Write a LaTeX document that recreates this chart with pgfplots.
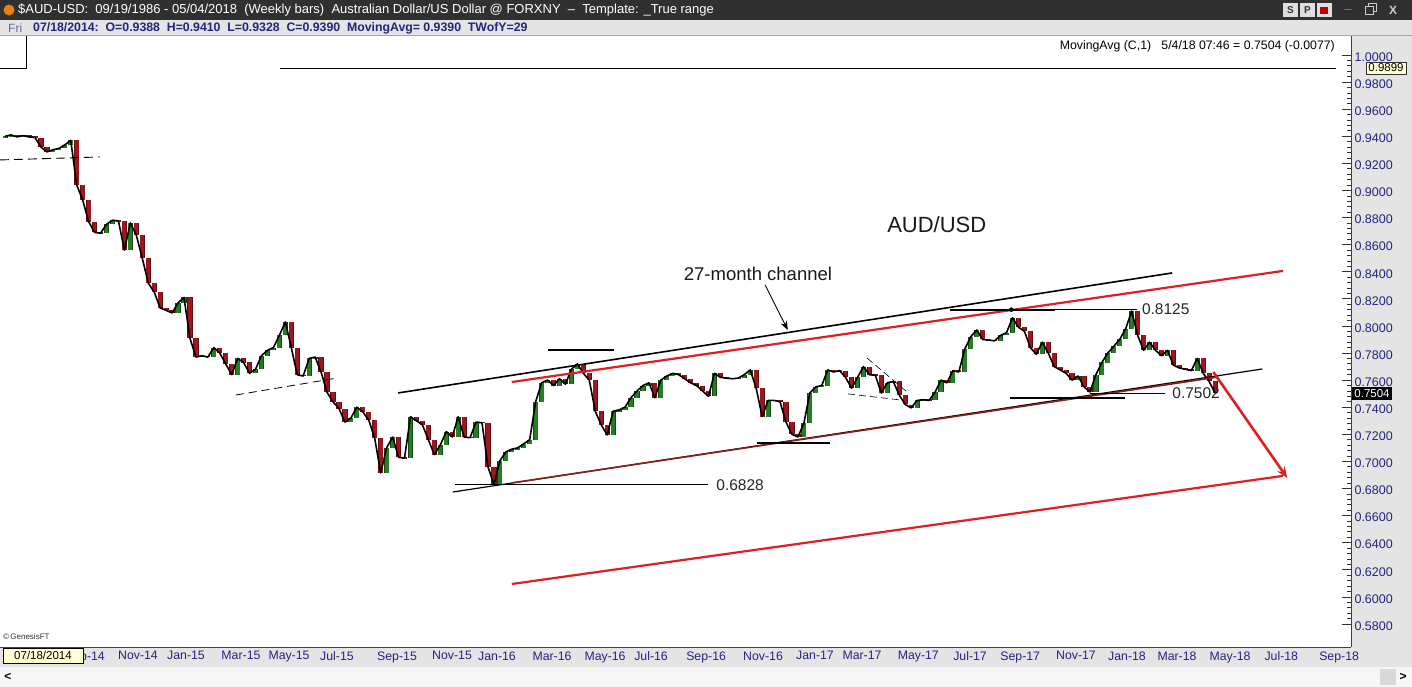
\documentclass[border=0pt]{standalone}
\usepackage{pgfplots}
\pgfplotsset{compat=1.18}
\usepackage{pgfplotstable}
\usepackage{fontspec}
\setmainfont{Liberation Sans}
\usetikzlibrary{arrows.meta}
\definecolor{upg}{RGB}{34,128,34}
\definecolor{upgd}{RGB}{20,70,20}
\definecolor{dnr}{RGB}{160,22,30}
\definecolor{dnrd}{RGB}{100,12,16}
\definecolor{chred}{RGB}{222,32,32}
\definecolor{mred}{RGB}{140,28,28}
\definecolor{navy}{RGB}{36,36,128}
\definecolor{panel}{RGB}{228,228,228}
\definecolor{hdr}{RGB}{48,48,48}
\definecolor{tipy}{RGB}{255,255,210}

\pgfplotstableread{
w o c
-5 0.9390 0.9400
-4 0.9400 0.9410
-3 0.9410 0.9395
-2 0.9395 0.9405
-1 0.9405 0.9395
0 0.9395 0.9390
1 0.9390 0.9320
2 0.9320 0.9285
3 0.9285 0.9300
4 0.9300 0.9310
5 0.9310 0.9336
6 0.9336 0.9370
7 0.9370 0.9040
8 0.9040 0.8930
9 0.8930 0.8770
10 0.8770 0.8690
11 0.8690 0.8685
12 0.8685 0.8750
13 0.8750 0.8780
14 0.8780 0.8775
15 0.8775 0.8560
16 0.8560 0.8760
17 0.8760 0.8670
18 0.8670 0.8500
19 0.8500 0.8317
20 0.8317 0.8250
21 0.8250 0.8133
22 0.8133 0.8115
23 0.8115 0.8096
24 0.8096 0.8170
25 0.8170 0.8210
26 0.8210 0.7910
27 0.7910 0.7770
28 0.7770 0.7780
29 0.7780 0.7770
30 0.7770 0.7840
31 0.7840 0.7800
32 0.7800 0.7720
33 0.7720 0.7640
34 0.7640 0.7760
35 0.7760 0.7730
36 0.7730 0.7650
37 0.7650 0.7680
38 0.7680 0.7780
39 0.7780 0.7820
40 0.7820 0.7840
41 0.7840 0.7930
42 0.7930 0.8030
43 0.8030 0.7840
44 0.7840 0.7640
45 0.7640 0.7630
46 0.7630 0.7760
47 0.7760 0.7770
48 0.7770 0.7660
49 0.7660 0.7510
50 0.7510 0.7440
51 0.7440 0.7390
52 0.7390 0.7290
53 0.7290 0.7320
54 0.7320 0.7400
55 0.7400 0.7365
56 0.7365 0.7305
57 0.7305 0.7170
58 0.7170 0.6915
59 0.6915 0.7100
60 0.7100 0.7180
61 0.7180 0.7030
62 0.7030 0.7025
63 0.7025 0.7330
64 0.7330 0.7300
65 0.7300 0.7270
66 0.7270 0.7160
67 0.7160 0.7050
68 0.7050 0.7120
69 0.7120 0.7220
70 0.7220 0.7180
71 0.7180 0.7330
72 0.7330 0.7180
73 0.7180 0.7175
74 0.7175 0.7290
75 0.7290 0.7285
76 0.7285 0.6960
77 0.6960 0.6828
78 0.6828 0.7005
79 0.7005 0.7070
80 0.7070 0.7090
81 0.7090 0.7100
82 0.7100 0.7130
83 0.7130 0.7160
84 0.7160 0.7440
85 0.7440 0.7580
86 0.7580 0.7600
87 0.7600 0.7560
88 0.7560 0.7610
89 0.7610 0.7570
90 0.7570 0.7680
91 0.7680 0.7720
92 0.7720 0.7650
93 0.7650 0.7600
94 0.7600 0.7370
95 0.7370 0.7270
96 0.7270 0.7195
97 0.7195 0.7370
98 0.7370 0.7380
99 0.7380 0.7400
100 0.7400 0.7470
101 0.7470 0.7520
102 0.7520 0.7560
103 0.7560 0.7580
104 0.7580 0.7470
105 0.7470 0.7600
106 0.7600 0.7630
107 0.7630 0.7650
108 0.7650 0.7640
109 0.7640 0.7610
110 0.7610 0.7580
111 0.7580 0.7560
112 0.7560 0.7520
113 0.7520 0.7480
114 0.7480 0.7650
115 0.7650 0.7620
116 0.7620 0.7615
117 0.7615 0.7610
118 0.7610 0.7615
119 0.7615 0.7640
120 0.7640 0.7675
121 0.7675 0.7540
122 0.7540 0.7330
123 0.7330 0.7450
124 0.7450 0.7450
125 0.7450 0.7440
126 0.7440 0.7290
127 0.7290 0.7200
128 0.7200 0.7180
129 0.7180 0.7280
130 0.7280 0.7505
131 0.7505 0.7550
132 0.7550 0.7560
133 0.7560 0.7675
134 0.7675 0.7660
135 0.7660 0.7670
136 0.7670 0.7620
137 0.7620 0.7540
138 0.7540 0.7620
139 0.7620 0.7700
140 0.7700 0.7640
141 0.7640 0.7635
142 0.7635 0.7505
143 0.7505 0.7580
144 0.7580 0.7590
145 0.7590 0.7490
146 0.7490 0.7420
147 0.7420 0.7395
148 0.7395 0.7450
149 0.7450 0.7455
150 0.7455 0.7450
151 0.7450 0.7510
152 0.7510 0.7600
153 0.7600 0.7580
154 0.7580 0.7670
155 0.7670 0.7660
156 0.7660 0.7830
157 0.7830 0.7920
158 0.7920 0.7970
159 0.7970 0.7900
160 0.7900 0.7895
161 0.7895 0.7890
162 0.7890 0.7930
163 0.7930 0.7950
164 0.7950 0.8060
165 0.8060 0.7990
166 0.7990 0.7960
167 0.7960 0.7840
168 0.7840 0.7790
169 0.7790 0.7880
170 0.7880 0.7800
171 0.7800 0.7700
172 0.7700 0.7675
173 0.7675 0.7650
174 0.7650 0.7600
175 0.7600 0.7630
176 0.7630 0.7550
177 0.7550 0.7512
178 0.7512 0.7640
179 0.7640 0.7730
180 0.7730 0.7800
181 0.7800 0.7850
182 0.7850 0.7900
183 0.7900 0.7980
184 0.7980 0.8110
185 0.8110 0.7930
186 0.7930 0.7820
187 0.7820 0.7880
188 0.7880 0.7820
189 0.7820 0.7780
190 0.7780 0.7820
191 0.7820 0.7710
192 0.7710 0.7690
193 0.7690 0.7680
194 0.7680 0.7670
195 0.7670 0.7760
196 0.7760 0.7650
197 0.7650 0.7590
198 0.7590 0.7504
}\data

\begin{document}
\begin{tikzpicture}[x=1pt,y=1pt]
\path[use as bounding box] (0,0) rectangle (1412,687);
\fill[white] (0,0) rectangle (1412,687);
% panels
\fill[panel] (1351,20) rectangle (1412,651);
\fill[panel] (0,20) rectangle (1412,40);
\fill[gray!7] (0,0) rectangle (1412,20);
\fill[hdr] (0,667) rectangle (1412,687);
\fill[panel] (0,651) rectangle (1412,667);
\draw[gray!70, line width=0.8pt] (0,651.4) -- (1412,651.4);

\begin{axis}[
  at={(0pt,40pt)}, anchor=south west, scale only axis,
  width=1351pt, height=611pt,
  xmin=-5.87, xmax=220.8, ymin=0.5630, ymax=1.0140,
  clip=false,
  axis x line*=bottom, axis y line*=right,
  axis line style={black!75, line width=0.8pt},
  /pgf/number format/assume math mode=true,
  ytick={0.58,0.60,0.62,0.64,0.66,0.68,0.70,0.72,0.74,0.76,0.78,0.80,0.82,0.84,0.86,0.88,0.90,0.92,0.94,0.96,0.98,1.00},
  minor y tick num=4,
  tick align=inside,
  major tick length=9pt, minor tick length=4.5pt,
  tick style={black!80, line width=0.7pt},
  yticklabel={\pgfmathprintnumber[fixed,fixed zerofill,precision=4]{\tick}},
  yticklabel style={font=\fontsize{12.5}{14}\selectfont, text=navy, anchor=west, yshift=-2pt, xshift=0pt},
  xtick={8.39,17.28,25.34,34.56,42.62,50.67,60.74,69.97,77.52,86.74,95.64,103.36,112.6,122.15,130.87,138.76,148.2,156.88,165.3,174.66,183.22,191.6,200.5,209.1,218.8},
  xticklabels={Sep-14,Nov-14,Jan-15,Mar-15,May-15,Jul-15,Sep-15,Nov-15,Jan-16,Mar-16,May-16,Jul-16,Sep-16,Nov-16,Jan-17,Mar-17,May-17,Jul-17,Sep-17,Nov-17,Jan-18,Mar-18,May-18,Jul-18,Sep-18},
  x tick style={draw=none},
  xticklabel style={font=\fontsize{12.3}{14}\selectfont, text=navy, yshift=-1pt},
]
% candle bodies: up weeks
\addplot[draw=none, mark=none, restrict y to domain=0.3:1.2,
  error bars/.cd, y dir=both, y explicit, error mark=none,
  error bar style={line width=5.2pt, draw=upgd}]
  table[x=w, y expr={ifthenelse(\thisrow{c}>=\thisrow{o},(\thisrow{o}+\thisrow{c})/2,-1)},
        y error expr={max(abs(\thisrow{c}-\thisrow{o})/2,0.0006)}] {\data};
\addplot[draw=none, mark=none, restrict y to domain=0.3:1.2,
  error bars/.cd, y dir=both, y explicit, error mark=none,
  error bar style={line width=3.8pt, draw=upg}]
  table[x=w, y expr={ifthenelse(\thisrow{c}>=\thisrow{o},(\thisrow{o}+\thisrow{c})/2,-1)},
        y error expr={max(abs(\thisrow{c}-\thisrow{o})/2,0.0006)}] {\data};
% candle bodies: down weeks
\addplot[draw=none, mark=none, restrict y to domain=0.3:1.2,
  error bars/.cd, y dir=both, y explicit, error mark=none,
  error bar style={line width=5.2pt, draw=dnrd}]
  table[x=w, y expr={ifthenelse(\thisrow{c}<\thisrow{o},(\thisrow{o}+\thisrow{c})/2,-1)},
        y error expr={max(abs(\thisrow{c}-\thisrow{o})/2,0.0006)}] {\data};
\addplot[draw=none, mark=none, restrict y to domain=0.3:1.2,
  error bars/.cd, y dir=both, y explicit, error mark=none,
  error bar style={line width=3.8pt, draw=dnr}]
  table[x=w, y expr={ifthenelse(\thisrow{c}<\thisrow{o},(\thisrow{o}+\thisrow{c})/2,-1)},
        y error expr={max(abs(\thisrow{c}-\thisrow{o})/2,0.0006)}] {\data};
% moving average (close)
\addplot[black, line width=1.6pt, line join=round, mark=none] table[x=w, y=c] {\data};

% channel and trend lines
\addplot[black, line width=1.6pt] coordinates {(60.9,0.7505) (190.8,0.8391)};
\addplot[chred, line width=2.2pt] coordinates {(80.0,0.7586) (209.4,0.8406)};
\addplot[black, line width=1.2pt] coordinates {(70.1,0.6774) (205.9,0.7682)};
\addplot[mred, line width=1.6pt] coordinates {(80.0,0.6841) (198.5,0.7623)};
\addplot[chred, line width=2.2pt] coordinates {(80.0,0.6095) (209.4,0.6893)};
\addplot[chred, line width=2.6pt, -{Stealth[length=11pt,width=9pt]}] coordinates {(197.7,0.7660) (210.1,0.6878)};
% horizontal levels
\addplot[black, line width=1.5pt] coordinates {(86.1,0.7823) (97.1,0.7823)};
\addplot[black, line width=0.7pt] coordinates {(70.5,0.6828) (112.9,0.6828)};
\addplot[black, line width=1.5pt] coordinates {(71.6,0.6828) (84.7,0.6828)};
\addplot[black, line width=0.7pt] coordinates {(153.5,0.8125) (184.9,0.8125)};
\addplot[black, line width=1.3pt] coordinates {(153.5,0.8118) (171.1,0.8118)};
\addplot[black, only marks, mark=*, mark size=2pt] coordinates {(163.8,0.8120)};
\addplot[black, line width=0.7pt] coordinates {(177.0,0.7502) (189.6,0.7502)};
\addplot[black, line width=1.5pt] coordinates {(163.6,0.7468) (182.9,0.7468)};
\addplot[black, line width=1.5pt] coordinates {(121.1,0.7136) (133.4,0.7136)};
\addplot[black, line width=0.9pt, dash pattern=on 9pt off 5pt] coordinates {(-5.87,0.9225) (10.9,0.9247)};
\addplot[black, line width=0.8pt, dash pattern=on 8pt off 5pt] coordinates {(33.7,0.7490) (50.8,0.7616)};
\addplot[black, line width=0.6pt, dash pattern=on 7pt off 4pt] coordinates {(136.4,0.7498) (145.1,0.7454)};
\addplot[black, line width=0.6pt, dash pattern=on 7pt off 4pt] coordinates {(139.6,0.7763) (146.3,0.7513)};
\addplot[black, line width=1pt] coordinates {(41.1,0.9899) (218.3,0.9899)};
\addplot[black, line width=0.9pt, -{Stealth[length=9pt,width=7pt]}] coordinates {(122.5,0.8302) (126.3,0.7970)};
% annotations
\node[font=\fontsize{22}{26}\selectfont, text=black!90] at (axis cs:151.3,0.8745) {AUD/USD};
\node[font=\fontsize{18.5}{22}\selectfont, text=black!90] at (axis cs:121.3,0.8384) {27-month channel};
\node[font=\fontsize{15.5}{18}\selectfont, text=black!85, anchor=west, inner sep=0pt] at (axis cs:114.3,0.6828) {0.6828};
\node[font=\fontsize{15.5}{18}\selectfont, text=black!85, anchor=west, inner sep=0pt] at (axis cs:185.7,0.8125) {0.8125};
\node[font=\fontsize{15.5}{18}\selectfont, text=black!85, anchor=west, inner sep=0pt] at (axis cs:190.8,0.7502) {0.7502};
\end{axis}

% header line 1
\fill[orange!60!brown] (9,677) circle (5.5pt);
\node[anchor=west, text=white, font=\fontsize{13}{14}\selectfont, inner sep=0pt] at (18,677)
  {\$AUD-USD:\ \ 09/19/1986 - 05/04/2018\ \ (Weekly bars)\ \ Australian Dollar/US Dollar @ FORXNY\ \ --\ \ Template: \_True range};
% buttons
\foreach \xa/\lab in {1283/S,1300/P}{
  \fill[gray!25] (\xa,670) rectangle ++(15,14);
  \node[font=\fontsize{10}{12}\selectfont\bfseries, text=black!80] at (\xa+7.5,677) {\lab};
}
\fill[gray!25] (1317,670) rectangle ++(15,14);
\fill[red!75!black] (1320,673) rectangle ++(8,7);
\node[font=\fontsize{12}{12}\selectfont\bfseries, text=gray!40] at (1348,678) {\_};
\draw[gray!40, line width=1pt] (1365,672) rectangle ++(8,8) (1368,680) -- (1368,683) -- (1376,683) -- (1376,675) -- (1373,675);
\node[font=\fontsize{12}{12}\selectfont\bfseries, text=gray!40] at (1393,677) {X};
% header line 2
\node[anchor=west, text=navy!70, font=\fontsize{12}{14}\selectfont, inner sep=0pt] at (8,659) {Fri};
\node[anchor=west, text=navy, font=\fontsize{12.3}{14}\selectfont\bfseries, inner sep=0pt] at (33,659)
  {07/18/2014:\ \ O=0.9388\ \ H=0.9410\ \ L=0.9328\ \ C=0.9390\ \ MovingAvg= 0.9390\ \ TWofY=29};
% moving average readout
\node[anchor=east, text=black, font=\fontsize{12.3}{14}\selectfont, inner sep=0pt] at (1335,641)
  {MovingAvg (C,1)\ \ \ 5/4/18 07:46 = 0.7504 (-0.0077)};
% small pane frame top-left
\draw[black, line width=0.8pt] (26,651) -- (26,619) -- (0,619);
% copyright
\node[anchor=west, font=\fontsize{8}{10}\selectfont, text=black!80, inner sep=0pt] at (3,50) {\textcopyright\,GenesisFT};
% date box bottom-left
\fill[tipy, draw=black, line width=0.7pt] (3,24) rectangle (83,39);
\node[font=\fontsize{11.5}{13}\selectfont, text=black] at (43,31.5) {07/18/2014};
% value boxes on the price scale
\fill[tipy, draw=black!80, line width=0.6pt] (1366,613) rectangle (1406,625);
\node[font=\fontsize{11.5}{13}\selectfont, text=black] at (1386,619) {0.9899};
\fill[black] (1352,287) rectangle (1392,300);
\node[font=\fontsize{11.5}{13}\selectfont, text=white] at (1372,293.5) {0.7504};
% scroll bar
\node[font=\fontsize{12}{12}\selectfont\bfseries] at (8,10) {<};
\fill[gray!30] (1380,2) rectangle (1396,18);
\node[font=\fontsize{12}{12}\selectfont\bfseries] at (1403,10) {>};
\end{tikzpicture}
\end{document}
